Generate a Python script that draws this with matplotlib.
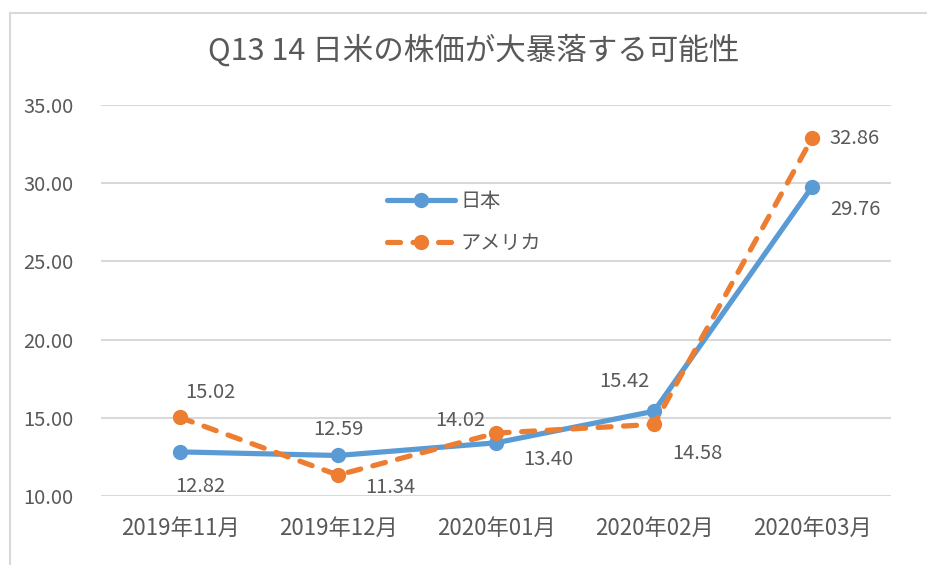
import matplotlib
matplotlib.use("Agg")
import matplotlib.pyplot as plt
from matplotlib.lines import Line2D

plt.rcParams['font.family'] = ['Noto Sans CJK JP', 'DejaVu Sans']

# データ
months = ['2019年11月', '2019年12月', '2020年01月', '2020年02月', '2020年03月']
japan = [12.82, 12.59, 13.40, 15.42, 29.76]
america = [15.02, 11.34, 14.02, 14.58, 32.86]
title = 'Q13 14 日米の株価が大暴落する可能性'

# ラベルの位置 (ピクセル単位のオフセット)
japan_offsets = [(20, -35), (0, 26), (52, -17), (-30, 30), (43, -23)]
america_offsets = [(30, 25), (52, -12), (-36, 13), (43, -29), (43, 0)]

blue = '#5B9BD5'
orange = '#ED7D31'
gray_text = '#595959'
grid_col = '#D9D9D9'

fig = plt.figure(figsize=(9.28, 5.65), dpi=100)
ax = fig.add_axes([101 / 928, 1 - 496 / 565, 790 / 928, 391 / 565])

x = list(range(len(months)))
ax.plot(x, japan, color=blue, lw=3.75, marker='o', markersize=10,
        solid_capstyle='round', label='日本', zorder=3)
ax.plot(x, america, color=orange, lw=3.75, marker='o', markersize=10,
        dashes=(2.5, 2.4), dash_capstyle='round', label='アメリカ', zorder=4)

for xi, v, off in zip(x, japan, japan_offsets):
    ax.annotate(f'{v:.2f}', (xi, v), xytext=off, textcoords='offset pixels',
                ha='center', va='center', fontsize=14.5, color=gray_text)
for xi, v, off in zip(x, america, america_offsets):
    ax.annotate(f'{v:.2f}', (xi, v), xytext=off, textcoords='offset pixels',
                ha='center', va='center', fontsize=14.5, color=gray_text)

ax.set_xlim(-0.5, 4.5)
ax.set_ylim(10, 35)
ax.set_yticks([10, 15, 20, 25, 30, 35])
ax.set_yticklabels([f'{t:.2f}' for t in [10, 15, 20, 25, 30, 35]])
ax.set_xticks(x)
ax.set_xticklabels(months)
ax.tick_params(axis='both', length=0, colors=gray_text)
ax.tick_params(axis='y', pad=20, labelsize=14.5)
ax.tick_params(axis='x', pad=15, labelsize=16)
ax.grid(axis='y', color=grid_col, lw=1.5)
ax.set_axisbelow(True)
for s in ax.spines.values():
    s.set_visible(False)

ax.legend(loc='upper left', bbox_to_anchor=(387 / 928, 1 - 191 / 565),
          bbox_transform=fig.transFigure, frameon=False, fontsize=14.5,
          handlelength=3.4, handletextpad=0.25, labelspacing=1.05,
          borderpad=0, borderaxespad=0, labelcolor=gray_text)

fig.text(474 / 928, 1 - 50 / 565, title, ha='center', va='center',
         fontsize=22, color=gray_text)

# グラフエリアの枠
fig.add_artist(Line2D([10 / 928, 10 / 928], [0, 1 - 13 / 565],
                      transform=fig.transFigure, color=grid_col, lw=1.5))
fig.add_artist(Line2D([10 / 928, 1], [1 - 13 / 565, 1 - 13 / 565],
                      transform=fig.transFigure, color=grid_col, lw=1.5))

fig.savefig('out.png', dpi=100)
